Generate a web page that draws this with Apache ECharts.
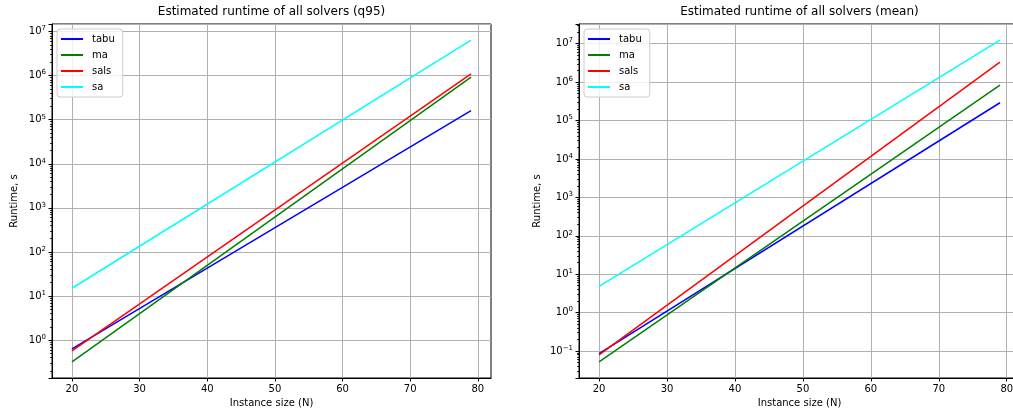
<!DOCTYPE html>
<html><head><meta charset="utf-8">
<script src="https://cdn.jsdelivr.net/npm/echarts@6/dist/echarts.min.js"></script>
<style>html,body{margin:0;padding:0;background:#fff}#c{width:1013px;height:416px}</style>
</head><body><div id="c"></div>
<script>
// ---- data ----
const solvers = ['tabu', 'ma', 'sals', 'sa'];
const solverColors = ['#0000ff', '#008000', '#ff0000', '#00ffff'];
const instanceSizes = [20, 79];
// q95 runtime (s) at N = 20 and N = 79
const q95Tabu = [0.63, 1.6e5];
const q95Ma = [0.32, 9.3e5];
const q95Sals = [0.57, 1.1e6];
const q95Sa = [15, 6.4e6];
// mean runtime (s) at N = 20 and N = 79
const meanTabu = [0.086, 2.9e5];
const meanMa = [0.052, 8.3e5];
const meanSals = [0.079, 3.3e6];
const meanSa = [4.8, 1.24e7];
const xTickLabels = [20, 30, 40, 50, 60, 70, 80];
const titles = ['Estimated runtime of all solvers (q95)', 'Estimated runtime of all solvers (mean)'];
const xName = 'Instance size (N)';
const yName = 'Runtime, s';

const panels = [
  [q95Tabu, q95Ma, q95Sals, q95Sa],
  [meanTabu, meanMa, meanSals, meanSa]
];

// matplotlib-like 5% margins
function xRange() {
  const lo = Math.min(...instanceSizes), hi = Math.max(...instanceSizes);
  const m = (hi - lo) * 0.05;
  return [lo - m, hi + m];
}
function yRange(sets) {
  const all = [].concat(...sets).map(Math.log10);
  const lo = Math.min(...all), hi = Math.max(...all);
  const m = (hi - lo) * 0.05;
  return [Math.pow(10, lo - m), Math.pow(10, hi + m)];
}
function logLabel(v) {
  const l = Math.log10(v);
  const r = Math.round(l);
  if (Math.abs(l - r) > 1e-6) return '';
  return '{b|10}{e|' + String(r).replace('-', '\u2212') + '}';
}
function minorValues(range) {
  const out = [];
  for (let k = -3; k <= 8; k++) for (let m = 2; m <= 9; m++) {
    const v = m * Math.pow(10, k);
    if (v >= range[0] && v <= range[1]) out.push(v);
  }
  return out;
}

const FONT = 'DejaVu Sans';
const grids = [
  {left: 52, width: 439, top: 24, bottom: 38},
  {left: 579, width: 441, top: 24, bottom: 38}
];
const titleCenters = [271.5, 799.5];
const legendLefts = [57, 584];
const yNameGaps = [33, 37];

const xr = xRange();
const option = {
  animation: false,
  backgroundColor: '#fff',
  textStyle: {fontFamily: FONT},
  title: titles.map((t, i) => ({
    text: t, left: titleCenters[i], textAlign: 'center', top: 6, padding: 0,
    textStyle: {fontFamily: FONT, fontSize: 12, fontWeight: 'normal', color: '#000'}
  })),
  legend: legendLefts.map(l => ({
    orient: 'vertical', left: l, top: 29, data: solvers,
    icon: 'rect', itemWidth: 22, itemHeight: 2, itemGap: 4,
    padding: [4, 8, 4, 4],
    backgroundColor: 'rgba(255,255,255,0.8)', borderColor: '#cccccc', borderWidth: 1, borderRadius: 3,
    textStyle: {fontFamily: FONT, fontSize: 10, color: '#000', lineHeight: 12, padding: [0, 0, 0, 4]},
    selectedMode: false
  })),
  grid: grids.map(g => Object.assign({show: true, borderColor: '#000', borderWidth: 1, containLabel: false, outerBoundsMode: 'none'}, g)),
  xAxis: [0, 1].map(i => ({
    type: 'value', gridIndex: i, min: xr[0], max: xr[1], interval: 10,
    name: xName, nameLocation: 'middle', nameGap: 20,
    nameTextStyle: {fontFamily: FONT, fontSize: 10, color: '#000'},
    axisLine: {show: true, lineStyle: {color: '#000', width: 1}},
    axisTick: {show: true, length: 3.5, lineStyle: {color: '#000'}, customValues: xTickLabels},
    axisLabel: {fontFamily: FONT, fontSize: 10, color: '#000', margin: 6, customValues: xTickLabels, formatter: v => String(v)},
    splitLine: {show: true, lineStyle: {color: '#b0b0b0', width: 1}}
  })),
  yAxis: [],
  series: []
};
panels.forEach((sets, i) => {
  const yr = yRange(sets);
  option.yAxis.push({
    type: 'log', logBase: 10, gridIndex: i, min: yr[0], max: yr[1],
    name: yName, nameLocation: 'middle', nameGap: yNameGaps[i],
    nameTextStyle: {fontFamily: FONT, fontSize: 10, color: '#000'},
    axisLine: {show: true, lineStyle: {color: '#000', width: 1}},
    axisTick: {show: true, length: 3.5, lineStyle: {color: '#000'}},
    axisLabel: {
      fontFamily: FONT, fontSize: 10, color: '#000', margin: 6, formatter: logLabel,
      rich: {
        b: {fontFamily: FONT, fontSize: 10, color: '#000', lineHeight: 13},
        e: {fontFamily: FONT, fontSize: 7, color: '#000', verticalAlign: 'top', lineHeight: 13, padding: [0, 0, 4, 0]}
      }
    },
    splitLine: {show: true, lineStyle: {color: '#b0b0b0', width: 1}}
  });
});
panels.forEach((sets, i) => {
  const yr = yRange(sets);
  option.yAxis.push({
    type: 'log', logBase: 10, gridIndex: i, min: yr[0], max: yr[1], position: 'left',
    axisLine: {show: false},
    axisTick: {show: true, length: 2, lineStyle: {color: '#000', width: 0.8}, customValues: minorValues(yr)},
    axisLabel: {show: false},
    splitLine: {show: false}
  });
});
panels.forEach((sets, i) => {
  sets.forEach((vals, j) => {
    option.series.push({
      type: 'line', name: solvers[j], xAxisIndex: i, yAxisIndex: i,
      data: instanceSizes.map((n, k) => [n, vals[k]]),
      showSymbol: false, symbol: 'none',
      lineStyle: {color: solverColors[j], width: 1.5},
      itemStyle: {color: solverColors[j]},
      emphasis: {disabled: true}
    });
  });
});
const chart = echarts.init(document.getElementById('c'));
chart.setOption(option);
</script>
</body></html>
